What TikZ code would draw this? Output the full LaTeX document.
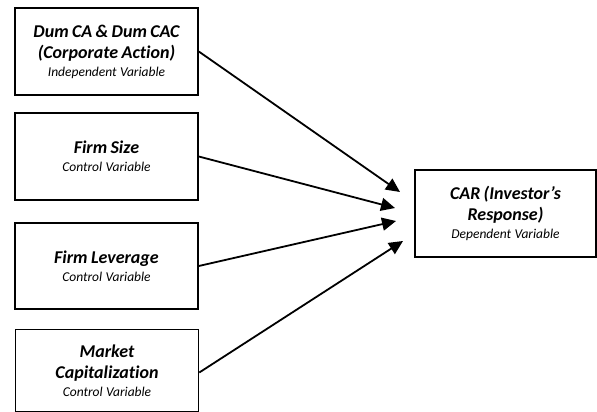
\documentclass[tikz,border=0pt]{standalone}
\usepackage{fontspec}
\setmainfont{Carlito}[Ligatures=NoCommon]
\usetikzlibrary{arrows.meta}
\tikzset{
  varbox/.style={draw, line width=1.6pt, align=center, inner sep=0pt, text width=175pt},
  conn/.style={line width=1.8pt, -{Triangle[length=14pt,width=13pt]}}
}
\newcommand{\ttlfont}{\fontsize{18}{21}\selectfont\bfseries\itshape}
\newcommand{\subfont}{\fontsize{13.5}{18}\selectfont\mdseries\itshape}
\begin{document}
\begin{tikzpicture}[x=1pt,y=-1pt]
\useasboundingbox (0,0) rectangle (597,412);
\node[varbox, minimum width=183pt, minimum height=87pt] (b1) at (106.5,51.5)
  {\ttlfont Dum CA \& Dum CAC\par (Corporate Action)\par \subfont Independent Variable\par};
\node[varbox, minimum width=183pt, minimum height=87pt] (b2) at (106.5,156.5)
  {\ttlfont Firm Size\par \subfont Control Variable\par};
\node[varbox, minimum width=183pt, minimum height=86pt] (b3) at (106.5,266)
  {\ttlfont Firm Leverage\par \subfont Control Variable\par};
\node[varbox, minimum width=183pt, minimum height=82pt] (b4) at (107,370.5)
  {\ttlfont Market\par Capitalization\par \subfont Control Variable\par};
\node[varbox, minimum width=181pt, minimum height=87pt] (car) at (505.5,213.5)
  {\ttlfont CAR (Investor’s\par Response)\par \subfont Dependent Variable\par};
\coordinate (t1) at (400,192);
\coordinate (t2) at (395,208);
\coordinate (t3) at (396,221);
\coordinate (t4) at (403,241);
\draw[conn] (b1.east) -- (t1);
\draw[conn] (b2.east) -- (t2);
\draw[conn] (b3.east) -- (t3);
\draw[conn] ([yshift=-2pt]b4.east) -- (t4);
\end{tikzpicture}
\end{document}
